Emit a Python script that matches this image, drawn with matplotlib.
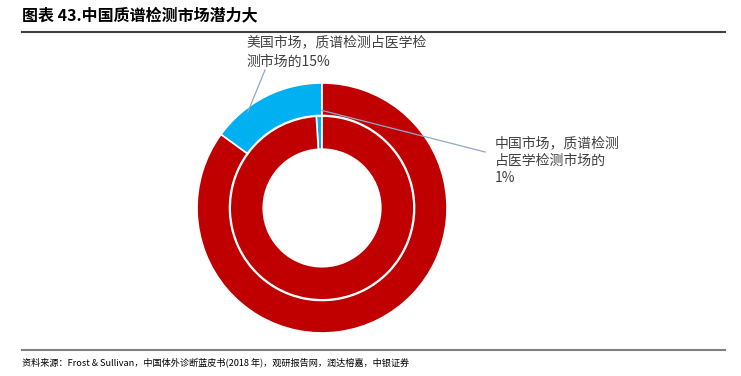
import matplotlib.pyplot as plt
import numpy as np

plt.rcParams['font.family'] = ['Noto Sans CJK SC', 'DejaVu Sans']

# 质谱检测占医学检测市场比例
outer_labels = ['美国质谱检测', '其他']
outer_share = [15, 85]   # 美国
inner_labels = ['中国质谱检测', '其他']
inner_share = [1, 99]    # 中国
colors = ['#00B0F0', '#C00000']

title = '图表 43.中国质谱检测市场潜力大'
source = '资料来源：Frost & Sullivan，中国体外诊断蓝皮书(2018 年)，观研报告网，润达榕嘉，中银证券'
us_note = '美国市场，质谱检测占医学检\n测市场的15%'
cn_note = '中国市场，质谱检测\n占医学检测市场的\n1%'

fig = plt.figure(figsize=(7.41, 3.76), dpi=100)

ax = fig.add_axes([0.2659, 0.1144, 0.3374, 0.665])
w_out, _ = ax.pie(outer_share, colors=colors, radius=1.0, startangle=90,
                  counterclock=True,
                  wedgeprops=dict(width=0.26, edgecolor='white', linewidth=1.2))
w_in, _ = ax.pie(inner_share, colors=colors, radius=0.735, startangle=90,
                 counterclock=True,
                 wedgeprops=dict(width=0.265, edgecolor='white', linewidth=1.2))
ax.set_xlim(-1, 1)
ax.set_ylim(-1, 1)
ax.set_aspect('equal')
ax.axis('off')

# 引线
a = np.deg2rad(w_out[0].theta1 + 0.7 * (w_out[0].theta2 - w_out[0].theta1))
ax.plot([-0.456, 0.97 * np.cos(a)], [1.104, 0.97 * np.sin(a)],
        color='#8EA9C8', lw=0.9, clip_on=False)
b = np.deg2rad(w_in[0].theta1)
ax.plot([0.78 * np.cos(b), 1.304], [0.78 * np.sin(b), 0.448],
        color='#8EA9C8', lw=0.9, clip_on=False)

fig.text(0.333, 0.905, us_note, fontsize=10, color='#404040', va='top',
         linespacing=1.45)
fig.text(0.668, 0.638, cn_note, fontsize=10, color='#404040', va='top',
         linespacing=1.3)

fig.text(0.03, 0.96, title, fontsize=11.5, fontweight='bold', va='center',
         color='black')
fig.add_artist(plt.Line2D([0.03, 0.978], [0.915, 0.915], color='#404040', lw=1.5))
fig.add_artist(plt.Line2D([0.03, 0.978], [0.07, 0.07], color='#808080', lw=1.5))
fig.text(0.03, 0.037, source, fontsize=6.6, style='italic', va='center',
         color='black')

plt.savefig('out.png', dpi=100)
